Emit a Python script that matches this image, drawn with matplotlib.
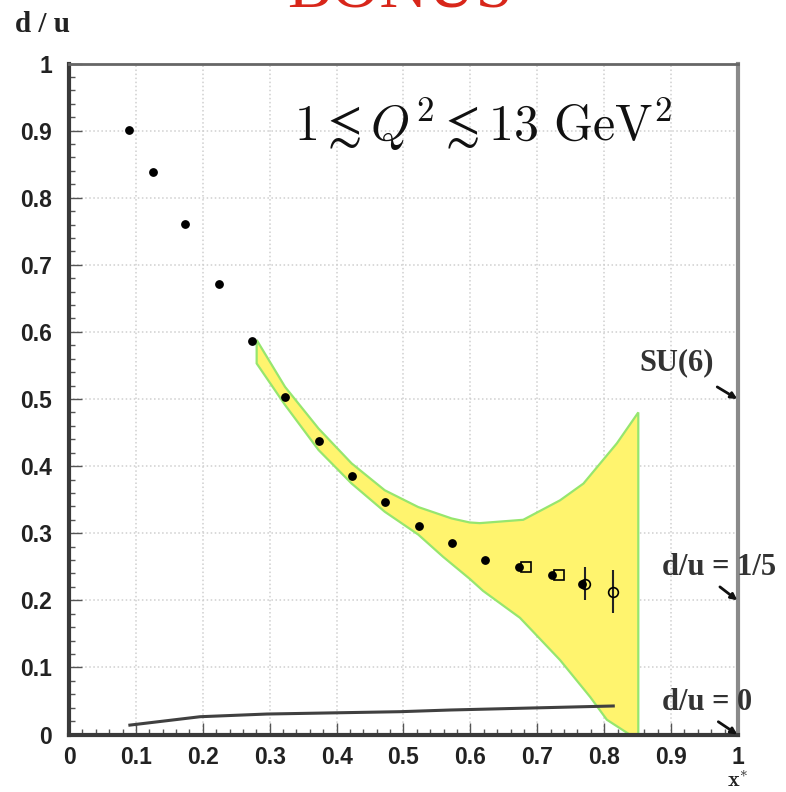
#!/usr/bin/python
# d/u ratio vs x* with projected uncertainty band

import matplotlib.pyplot as plt

# filled points
x_filled = [0.090, 0.126, 0.174, 0.224, 0.274, 0.323, 0.373, 0.4235, 0.473, 0.523,
            0.573, 0.622, 0.672, 0.7215, 0.767]
du_filled = [0.901, 0.838, 0.761, 0.672, 0.586, 0.503, 0.437, 0.385, 0.347, 0.310,
             0.285, 0.260, 0.249, 0.237, 0.225]

# open squares
x_sq = [0.683, 0.733]
du_sq = [0.249, 0.237]

# open circles with errors
x_circ = [0.771, 0.813]
du_circ = [0.225, 0.213]
err_circ = [0.025, 0.032]

# uncertainty band edges
x_band_hi = [0.2805, 0.323, 0.373, 0.4225, 0.472, 0.522, 0.572, 0.599, 0.614, 0.679,
             0.734, 0.769, 0.819, 0.851]
du_band_hi = [0.588, 0.518, 0.456, 0.404, 0.364, 0.339, 0.322, 0.316, 0.315, 0.320,
              0.349, 0.374, 0.434, 0.480]
x_band_lo = [0.2805, 0.323, 0.373, 0.4225, 0.472, 0.522, 0.559, 0.599, 0.619, 0.674,
             0.734, 0.779, 0.804, 0.838, 0.851]
du_band_lo = [0.553, 0.491, 0.424, 0.374, 0.332, 0.298, 0.265, 0.232, 0.214, 0.174,
              0.111, 0.056, 0.022, 0.0, 0.0]

# gray curve near zero
x_curve = [0.091, 0.196, 0.2955, 0.495, 0.5695, 0.8136]
du_curve = [0.014, 0.0265, 0.0305, 0.034, 0.0365, 0.0425]

# limits marked on the right axis
limit_names = ['SU(6)', 'd/u = 1/5', 'd/u = 0']
limit_values = [0.5, 0.2, 0.0]

plt.rcParams['mathtext.fontset'] = 'cm'


def create_figure():
	fig = plt.figure(figsize=(7.86, 7.92), dpi=100)
	ax = fig.add_axes([0.0878, 0.0726, 0.8511, 0.8472])

	# band: polygon from upper edge then lower edge backwards
	poly_x = x_band_hi + x_band_lo[::-1]
	poly_y = du_band_hi + du_band_lo[::-1]
	ax.fill(poly_x, poly_y, facecolor='#fff46e', edgecolor='#96e66e', linewidth=1.6, zorder=2)

	ax.plot(x_curve, du_curve, color='#404040', linewidth=2.2, zorder=3)

	ax.plot(x_filled, du_filled, 'o', color='black', markersize=5.3, zorder=5)
	ax.plot(x_sq, du_sq, 's', markerfacecolor='none', markeredgecolor='black',
			markersize=6.5, markeredgewidth=1.2, zorder=4)
	ax.errorbar(x_circ, du_circ, yerr=err_circ, fmt='o', markerfacecolor='none',
				markeredgecolor='black', ecolor='#222222', elinewidth=1.5,
				markersize=7, markeredgewidth=1.2, capsize=0, zorder=4)

	ax.set_xlim(0, 1)
	ax.set_ylim(0, 1)
	ax.set_xticks([i / 10 for i in range(11)])
	ax.set_yticks([i / 10 for i in range(11)])
	ax.set_xticks([i / 50 for i in range(51)], minor=True)
	ax.set_yticks([i / 50 for i in range(51)], minor=True)
	ax.set_xticklabels(['0', '0.1', '0.2', '0.3', '0.4', '0.5', '0.6', '0.7', '0.8', '0.9', '1'])
	ax.set_yticklabels(['0', '0.1', '0.2', '0.3', '0.4', '0.5', '0.6', '0.7', '0.8', '0.9', '1'])
	ax.tick_params(which='both', direction='in', color='#555555', width=1)
	ax.tick_params(which='major', length=9)
	ax.tick_params(which='minor', length=4.5)
	ax.tick_params(axis='y', pad=12)
	ax.tick_params(axis='x', pad=8)
	for lab in ax.get_xticklabels() + ax.get_yticklabels():
		lab.set_fontfamily('Liberation Sans')
		lab.set_fontweight('bold')
		lab.set_fontsize(16.5)
		lab.set_color('#222222')

	ax.grid(True, which='major', linestyle=':', color='#cfcfcf', linewidth=1.1)
	ax.set_axisbelow(True)

	ax.spines['left'].set_linewidth(3)
	ax.spines['left'].set_color('#3a3a3a')
	ax.spines['bottom'].set_linewidth(3)
	ax.spines['bottom'].set_color('#3a3a3a')
	ax.spines['top'].set_linewidth(2)
	ax.spines['top'].set_color('#666666')
	ax.spines['right'].set_linewidth(3)
	ax.spines['right'].set_color('#8a8a8a')

	# Q^2 range
	ax.text(0.336, 0.885, r'$1 \lesssim Q^2 \lesssim 13\ \mathrm{GeV}^2$', fontsize=36,
			ha='left', va='baseline', color='#111111')

	# limit labels with arrows pointing to the right axis
	text_pos = [(0.852, 0.543), (0.887, 0.237), (0.887, 0.037)]
	arrow_start = [(0.969, 0.518), (0.973, 0.220), (0.9706, 0.019)]
	for name, val, tp, st in zip(limit_names, limit_values, text_pos, arrow_start):
		ax.text(tp[0], tp[1], name, fontsize=22, fontfamily='Liberation Serif',
				fontweight='bold', color='#333333', ha='left', va='baseline', clip_on=False)
		ax.annotate('', xy=(0.999, val), xytext=st, annotation_clip=False,
					arrowprops=dict(arrowstyle='-|>', color='#111111', lw=2, mutation_scale=9,
									shrinkA=0, shrinkB=0))

	# axis titles
	fig.text(0.019, 1 - 32 / 792, 'd / u', fontsize=21, fontfamily='Liberation Serif',
			 fontweight='bold', color='#222222', ha='left', va='baseline')
	fig.text(0.938, 1 - 791 / 792, r'$\mathbf{x}^{*}$', fontsize=16, color='#222222',
			 ha='center', va='bottom')

	# title, partly above the top edge
	fig.text(0.509, 1 - 8 / 792, 'BONUS', fontsize=48, fontfamily='Liberation Serif',
			 color='#d8261a', ha='center', va='baseline')
	return fig


if __name__ == "__main__":
	fig = create_figure()
	fig.savefig('out.png', dpi=100)
	plt.close(fig)
